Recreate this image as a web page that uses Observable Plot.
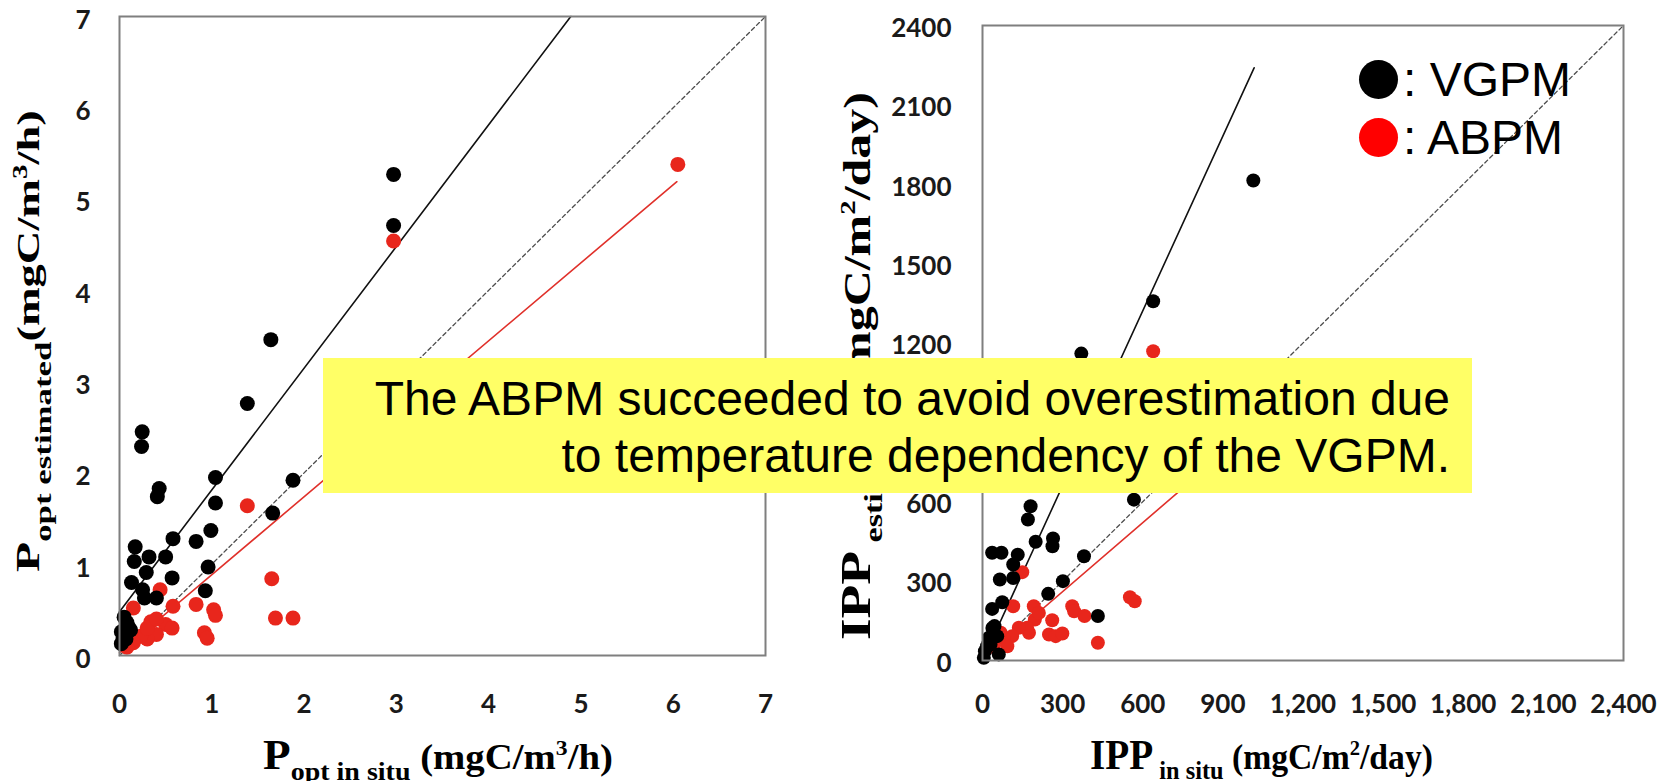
<!DOCTYPE html>
<html><head><meta charset="utf-8">
<script src="https://cdn.jsdelivr.net/npm/d3@7"></script>
<script src="https://cdn.jsdelivr.net/npm/@observablehq/plot@0.6"></script>
<style>
html,body{margin:0;padding:0;background:#fff;}
#page{position:relative;width:1668px;height:781px;overflow:hidden;background:#fff;}
.panel{position:absolute;top:0;}
#left{left:0;}
#right{left:800px;}
#titles{position:absolute;left:0;top:0;pointer-events:none;}
#note{position:absolute;left:323px;top:358px;width:1149px;height:135px;background:#ffff66;
  font-family:"Liberation Sans",Arial,sans-serif;font-size:48px;line-height:57px;text-align:right;
  box-sizing:border-box;padding:12px 22px 0 0;color:#000;white-space:nowrap;}
.lg-dot{position:absolute;width:39px;height:39px;border-radius:50%;}
.lg-txt{position:absolute;font-family:"Liberation Sans",Arial,sans-serif;font-size:48px;line-height:48px;color:#000;white-space:nowrap;}
</style></head>
<body><div id="page">
<div id="left" class="panel"></div>
<div id="right" class="panel"></div>
<svg id="titles" width="1668" height="781"></svg>
<div id="note">The ABPM succeeded to avoid overestimation due<br>to temperature dependency of the VGPM.</div>
<div class="lg-dot" style="left:1359px;top:60px;background:#000"></div>
<div class="lg-txt" style="left:1403px;top:56px">: VGPM</div>
<div class="lg-dot" style="left:1359px;top:118px;background:#ff0000"></div>
<div class="lg-txt" style="left:1403px;top:114px">: ABPM</div>
</div>
<script>
// ---------- Left panel: P_opt (mgC/m3/h) ----------
const leftTicks = [0, 1, 2, 3, 4, 5, 6, 7];
const pInSituVGPM = [2.97,2.97,1.64,1.385,0.246,0.239,1.04,1.88,0.43,0.41,1.04,1.66,0.99,0.58,0.83,0.17,0.32,0.50,0.16,0.96,0.29,0.57,0.13,0.25,0.93,0.27,0.40,0.05,0.10,0.02,0.02,0.07,0.08,0.12,0.04];
const pEstVGPM    = [5.27,4.71,3.46,2.76,2.45,2.29,1.95,1.92,1.83,1.74,1.67,1.56,1.37,1.28,1.25,1.19,1.08,1.08,1.03,0.97,0.91,0.85,0.80,0.72,0.71,0.63,0.63,0.42,0.31,0.26,0.13,0.18,0.36,0.28,0.20];
const pInSituABPM = [6.05,2.97,1.385,1.65,1.69,1.88,1.02,1.04,0.92,0.95,0.83,0.58,0.44,0.15,0.50,0.57,0.40,0.34,0.30,0.23,0.15,0.30,0.08,0.40];
const pEstABPM    = [5.38,4.54,1.64,0.84,0.41,0.41,0.50,0.44,0.25,0.19,0.56,0.54,0.72,0.52,0.34,0.30,0.23,0.37,0.18,0.21,0.14,0.30,0.09,0.40];
const pFitVGPM_x = [0, 4.89], pFitVGPM_y = [0.48, 7];
const pFitABPM_x = [0, 6.04], pFitABPM_y = [0.03, 5.19];
const pOneToOne = [0, 7];

// ---------- Right panel: IPP (mgC/m2/day) ----------
const rightTicks = [0, 300, 600, 900, 1200, 1500, 1800, 2100, 2400];
const rightXTickLabels = ["0","300","600","900","1,200","1,500","1,800","2,100","2,400"];
const rightYTickLabels = ["0","300","600","900","1200","1500","1800","2100","2400"];
const ippInSituVGPM = [1014,639,370,567,180,170,199,264,262,36,71,132,115,380,65,115,301,246,74,36,432,37,24,55,9,61,17,5,30,45];
const ippEstVGPM    = [1814,1358,1160,608,583,533,449,461,432,407,407,400,363,394,306,312,300,252,220,195,168,123,86,92,35,23,54,10,60,130];
const ippInSituABPM = [639,149,115,192,196,261,336,343,382,552,570,432,249,274,299,174,167,136,111,78,68,42,211,93];
const ippEstABPM    = [1169,334,205,205,155,152,205,186,168,239,224,67,98,92,102,105,124,124,92,86,105,54,180,54];
const ippFitVGPM_x = [0, 1017], ippFitVGPM_y = [0, 2240];
const ippFitABPM_x = [0, 1017], ippFitABPM_y = [0, 883];
const ippOneToOne = [0, 2400];

const RED = "#e8261c";
const zip = (xs, ys) => xs.map((x, i) => ({x, y: ys[i]}));
const axisStyle = {fontFamily: "Lato, 'Open Sans', sans-serif", fontSize: "26px", fontWeight: "700", color: "#1a1a1a", background: "transparent", overflow: "visible"};

function panel({domain, ticks, xLabels, yLabels, width, height, margins, xPad, yPad, yDy, r,
                vx, vy, ax, ay, fv, fa, one}) {
  return Plot.plot({
    width, height, ...margins,
    style: axisStyle,
    x: {domain, label: null},
    y: {domain, label: null},
    marks: [
      Plot.axisX({ticks, tickSize: 0, tickPadding: xPad, label: null,
        tickFormat: xLabels ? (d, i) => xLabels[i] : d => String(d)}),
      Plot.axisY({ticks, tickSize: 0, tickPadding: yPad, label: null, dy: yDy,
        tickFormat: yLabels ? (d, i) => yLabels[i] : d => String(d)}),
      Plot.line(zip(one, one), {x: "x", y: "y", stroke: "#4d4d4d", strokeWidth: 1.3, strokeDasharray: "4,3"}),
      Plot.line(fv, {x: "x", y: "y", stroke: "#111", strokeWidth: 1.6}),
      Plot.line(fa, {x: "x", y: "y", stroke: "#e0302a", strokeWidth: 1.6}),
      Plot.dot(zip(ax, ay), {x: "x", y: "y", r, fill: RED, stroke: "none"}),
      Plot.dot(zip(vx, vy), {x: "x", y: "y", r, fill: "#000", stroke: "none"}),
      Plot.frame({stroke: "#7f7f7f", strokeWidth: 2})
    ]
  });
}

document.getElementById("left").append(panel({
  domain: [0, 7], ticks: leftTicks, width: 800, height: 740,
  margins: {marginLeft: 119, marginRight: 35, marginTop: 16, marginBottom: 85},
  xPad: 39, yPad: 29, yDy: 4, r: 7.5,
  vx: pInSituVGPM, vy: pEstVGPM, ax: pInSituABPM, ay: pEstABPM,
  fv: zip(pFitVGPM_x, pFitVGPM_y), fa: zip(pFitABPM_x, pFitABPM_y), one: pOneToOne
}));

document.getElementById("right").append(panel({
  domain: [0, 2400], ticks: rightTicks, xLabels: rightXTickLabels, yLabels: rightYTickLabels,
  width: 868, height: 740,
  margins: {marginLeft: 182, marginRight: 45, marginTop: 25, marginBottom: 80},
  xPad: 34, yPad: 31, yDy: 3, r: 7,
  vx: ippInSituVGPM, vy: ippEstVGPM, ax: ippInSituABPM, ay: ippEstABPM,
  fv: zip(ippFitVGPM_x, ippFitVGPM_y), fa: zip(ippFitABPM_x, ippFitABPM_y), one: ippOneToOne
}));

// ---------- Axis titles (rich text with sub/superscripts) ----------
const svg = d3.select("#titles");
function richTitle(parts, {x, y, angle, length}) {
  const t = svg.append("text")
    .attr("font-family", "'Liberation Serif', 'Times New Roman', serif")
    .attr("font-weight", "bold").attr("fill", "#000");
  let cur = 0;
  for (const p of parts) {
    t.append("tspan").attr("font-size", p.size).attr("dy", (p.shift || 0) - cur)
      .attr("xml:space", "preserve").text(p.text);
    cur = p.shift || 0;
  }
  const w = t.node().getComputedTextLength();
  const s = length / w;
  t.attr("transform", `translate(${x},${y}) rotate(${angle}) scale(${s},1)`);
}
richTitle([{text: "P", size: 42}, {text: "opt in situ", size: 26, shift: 11},
  {text: " (mgC/m", size: 36}, {text: "3", size: 22, shift: -14}, {text: "/h)", size: 36}],
  {x: 263, y: 769, angle: 0, length: 350});
richTitle([{text: "IPP", size: 42}, {text: " in situ", size: 26, shift: 10},
  {text: " (mgC/m", size: 36}, {text: "2", size: 22, shift: -14}, {text: "/day)", size: 36}],
  {x: 1090, y: 769, angle: 0, length: 343});
richTitle([{text: "P", size: 34}, {text: "opt estimated", size: 24, shift: 12},
  {text: "(mgC/m", size: 32}, {text: "3", size: 20, shift: -12}, {text: "/h)", size: 32}],
  {x: 39, y: 572, angle: -90, length: 462});
richTitle([{text: "IPP", size: 42}, {text: " estimated", size: 26, shift: 12},
  {text: " (mgC/m", size: 38}, {text: "2", size: 22, shift: -15}, {text: "/day)", size: 38}],
  {x: 870, y: 640, angle: -90, length: 548});
</script>
</body></html>
